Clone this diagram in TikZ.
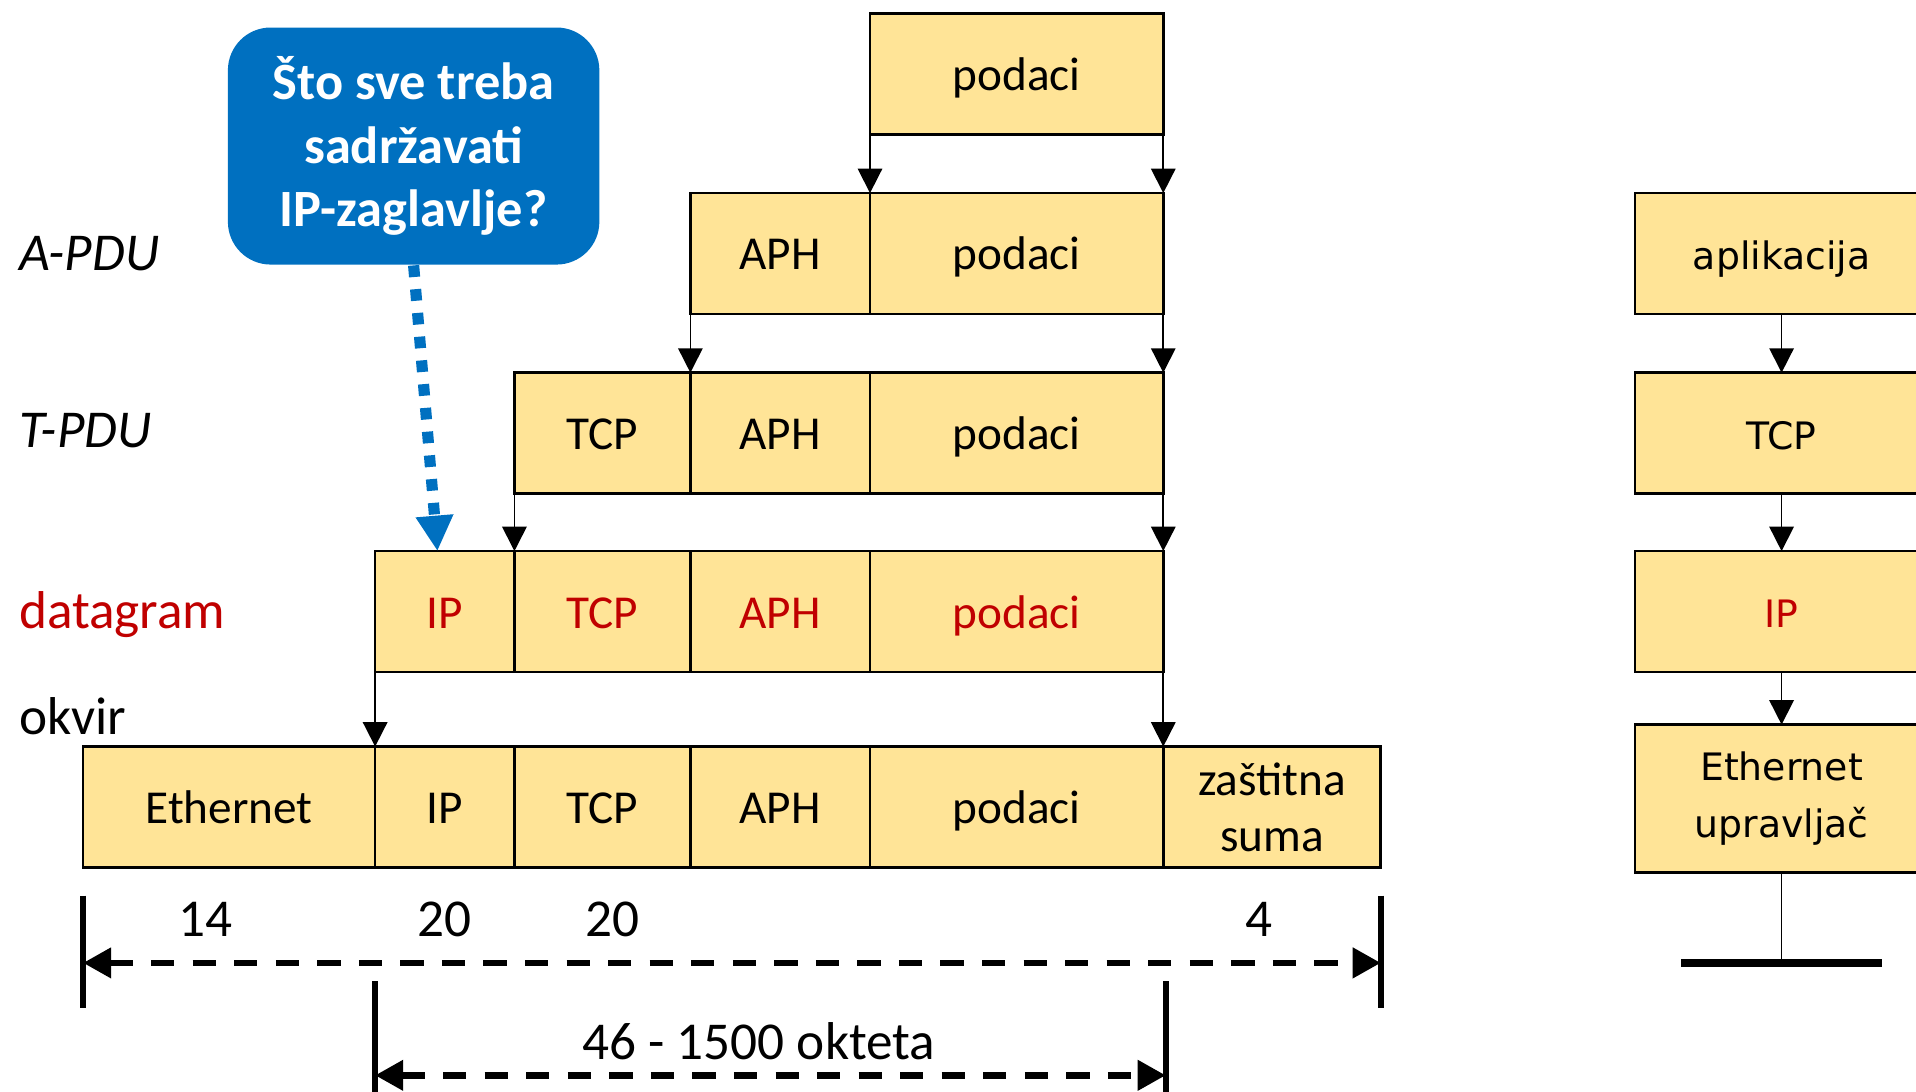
\documentclass[tikz,border=0pt]{standalone}
\usepackage{fontspec}
\setmainfont{Carlito}
\newfontfamily\stackfont{DejaVu Sans}
\usepackage{xcolor}
\usetikzlibrary{arrows.meta}
\usetikzlibrary{positioning}
\definecolor{pdufill}{HTML}{FFE497}
\definecolor{hdrred}{HTML}{C00000}
\definecolor{hintblue}{HTML}{0070C0}
\tikzset{
  cell/.style = {draw, fill=pdufill, line width=0.6pt, outer sep=0pt, inner sep=0pt,
    minimum height=9.9mm, text height=2.05ex, text depth=0.45ex, align=center,
    font=\fontsize{11}{13}\selectfont}
}
\tikzset{
  layer/.style = {cell, minimum width=24mm, font=\stackfont\fontsize{8.8}{13}\selectfont}
}
\tikzset{
  pdu label/.style = {anchor=base west, inner sep=0pt, font=\fontsize{12.4}{14}\selectfont},
  size label/.style = {font=\fontsize{12.4}{14}\selectfont}
}
\tikzset{
  callout/.style = {fill=hintblue, rounded corners=3.5mm, text=white, align=center,
    minimum width=30.4mm, minimum height=19.4mm,
    font=\bfseries\fontsize{12.2}{14.8}\selectfont},
  hint arrow/.style = {hintblue, line width=2.6pt, dash pattern=on 0.95mm off 1mm,
    -{Triangle[length=2.9mm,width=2.9mm]}}
}
\tikzset{
  size bar/.style = {line width=1.5pt},
  size arrow/.style = {line width=1.5pt, dash pattern=on 1.9mm off 1.5mm,
    arrows={Triangle[length=2.3mm,width=2.4mm]-Triangle[length=2.3mm,width=2.4mm]}}
}
\tikzset{
  >={Triangle[length=2mm,width=2mm]}
}

\begin{document}
\begin{tikzpicture}[x=0.1mm, y=-0.1mm]
  \useasboundingbox (0,0) rectangle (1568,893);
  \clip (0,0) rectangle (1568,893);

  % okvir
  \node[cell, minimum width=23.9mm, anchor=north west] (f-eth) at (68,611) {Ethernet};
  \node[cell, minimum width=11.4mm, right=0pt of f-eth] (f-ip) {IP};
  \node[cell, minimum width=14.4mm, right=0pt of f-ip] (f-tcp) {TCP};
  \node[cell, minimum width=14.7mm, right=0pt of f-tcp] (f-aph) {APH};
  \node[cell, minimum width=24mm, right=0pt of f-aph] (f-dat) {podaci};
  \node[cell, minimum width=17.8mm, right=0pt of f-dat, text height={}, text depth={}]
    (f-sum) {zaštitna\\suma};

  % datagram
  \node[cell, minimum width=11.4mm, above=6.1mm of f-ip, text=hdrred] (d-ip) {IP};
  \node[cell, minimum width=14.4mm, right=0pt of d-ip, text=hdrred] (d-tcp) {TCP};
  \node[cell, minimum width=14.7mm, right=0pt of d-tcp, text=hdrred] (d-aph) {APH};
  \node[cell, minimum width=24mm, right=0pt of d-aph, text=hdrred] (d-dat) {podaci};

  % T-PDU, A-PDU, podaci
  \node[cell, minimum width=14.4mm, above=4.7mm of d-tcp] (t-tcp) {TCP};
  \node[cell, minimum width=14.7mm, right=0pt of t-tcp] (t-aph) {APH};
  \node[cell, minimum width=24mm, right=0pt of t-aph] (t-dat) {podaci};
  \node[cell, minimum width=14.7mm, above=4.8mm of t-aph] (a-aph) {APH};
  \node[cell, minimum width=24mm, right=0pt of a-aph] (a-dat) {podaci};
  \node[cell, minimum width=24mm, above=4.8mm of a-dat] (p-dat) {podaci};

  \draw[->] (p-dat.south west) -- (a-dat.north west);
  \draw[->] (p-dat.south east) -- (a-dat.north east);
  \draw[->] (a-aph.south west) -- (t-aph.north west);
  \draw[->] (a-dat.south east) -- (t-dat.north east);
  \draw[->] (t-tcp.south west) -- (d-tcp.north west);
  \draw[->] (t-dat.south east) -- (d-dat.north east);
  \draw[->] (d-ip.south west) -- (f-ip.north west);
  \draw[->] (d-dat.south east) -- (f-dat.north east);

  \node[pdu label] (l-apdu) at (15,221) {\itshape A-PDU};
  \node[pdu label] (l-tpdu) at (15,366) {\itshape T-PDU};
  \node[pdu label, text=hdrred] (l-dgram) at (15,514) {datagram};
  \node[pdu label] (l-frame) at (15,601) {okvir};

  \node[callout] (q) at (338.5,119.5) {Što sve treba\\sadržavati\\IP-zaglavlje?};
  \draw[hint arrow] (q.south) -- ([xshift=-0.6mm]d-ip.north);

  % duljine
  \coordinate (fl) at (f-eth.west |- 0,788);
  \coordinate (fr) at (f-sum.east |- 0,788);
  \coordinate (dl) at (f-ip.west |- 0,880);
  \coordinate (dr) at ([xshift=0.2mm]f-dat.east |- 0,880);
  \draw[size bar] ([yshift=5.5mm]fl) -- ([yshift=-3.7mm]fl);
  \draw[size bar] ([yshift=5.5mm]fr) -- ([yshift=-3.7mm]fr);
  \draw[size bar] ([yshift=7.7mm]dl) -- ([yshift=-2mm]dl);
  \draw[size bar] ([yshift=7.7mm]dr) -- ([yshift=-2mm]dr);
  \draw[size arrow] (fl) -- (fr);
  \draw[size arrow] (dl) -- (dr);
  \node[size label] (n-eth) at (168,752) {14};
  \node[size label] (n-ip) at (364,752) {20};
  \node[size label] (n-tcp) at (501,752) {20};
  \node[size label] (n-sum) at (1030,752) {4};
  \node[size label] (n-dat) at (621,852) {46 - 1500 okteta};

  % slojevi
  \node[layer, anchor=north west] (s-app) at (1338,158) {aplikacija};
  \node[layer, below=4.8mm of s-app] (s-tcp) {TCP};
  \node[layer, below=4.7mm of s-tcp, text=hdrred] (s-ip) {IP};
  \node[layer, below=4.3mm of s-ip, minimum height=12.1mm, text height={}, text depth={},
    font=\stackfont\fontsize{8.8}{13.4}\selectfont] (s-eth) {Ethernet\\upravljač};
  \draw[->] (s-app) -- (s-tcp);
  \draw[->] (s-tcp) -- (s-ip);
  \draw[->] (s-ip) -- (s-eth);
  \coordinate (bus) at (s-eth.south |- 0,788);
  \draw (s-eth) -- (bus);
  \draw[line width=1.8pt] ([xshift=-8.2mm]bus) -- ([xshift=8.2mm]bus);
\end{tikzpicture}
\end{document}
